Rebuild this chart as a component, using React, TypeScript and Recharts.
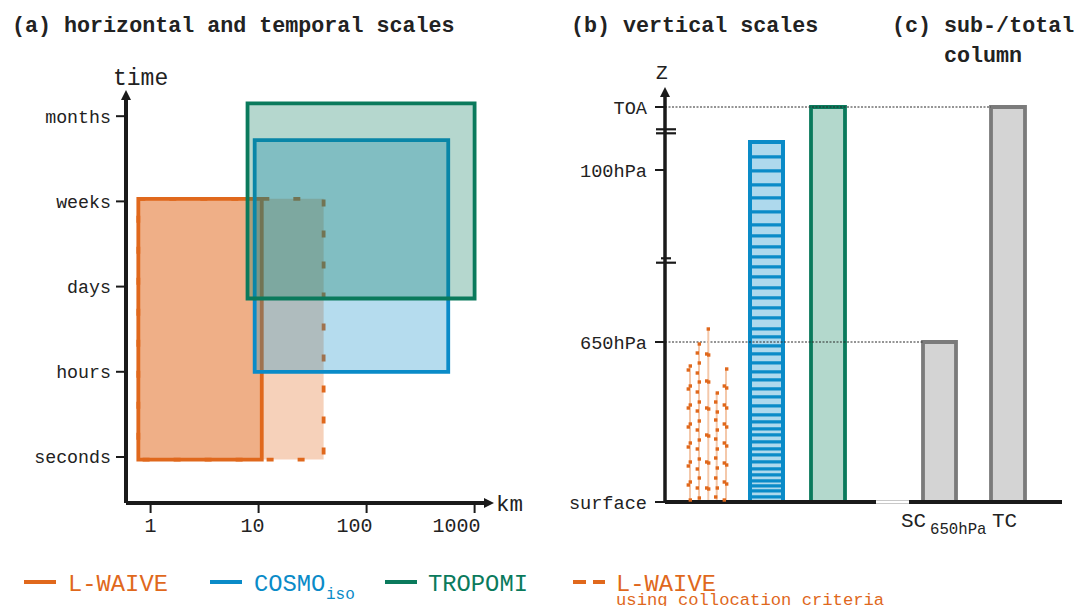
import React from "react";
import {
  ComposedChart,
  XAxis,
  YAxis,
  ReferenceArea,
  ReferenceLine,
  Line,
  Scatter,
} from "recharts";

const MONO = '"Liberation Mono", "DejaVu Sans Mono", monospace';
const INK = "#1a1a1a";
const TEXT = "#222";
const ORANGE = "#e0681c";
const ORANGE_LIGHT = "#f4c8aa";
const BLUE = "#0a8bc8";
const BLUE_LIGHT = "#aed9ed";
const GREEN = "#0a7a5c";
const GREEN_LIGHT = "#b3d8cc";
const GREY = "#7b7b7b";
const GREY_LIGHT = "#d4d4d4";
const ARROW = "url(#axisArrow)";

// (a) horizontal and temporal scales: km on a log axis, time on an ordinal axis
const KM_TICKS = [1, 10, 100, 1000];
const TIME_TICKS = [1, 2, 3, 4, 5];
const TIME_LABELS = ["seconds", "hours", "days", "weeks", "months"];

const SCALE_NAMES = ["L-WAIVE collocation", "L-WAIVE", "COSMOiso", "TROPOMI"];
const SCALE_KM_MIN = [0.77, 0.77, 9.2, 7.9];
const SCALE_KM_MAX = [40, 10.7, 570, 1000];
const SCALE_TIME_MIN = [0.97, 0.97, 2, 2.86];
const SCALE_TIME_MAX = [4.03, 4.03, 4.72, 5.15];

const SCALE_STYLE = [
  { stroke: ORANGE, fill: ORANGE, fillOpacity: 0.3, dash: "7 24" },
  { stroke: ORANGE, fill: ORANGE, fillOpacity: 0.32, dash: undefined },
  { stroke: BLUE, fill: BLUE, fillOpacity: 0.3, dash: undefined },
  { stroke: GREEN, fill: GREEN, fillOpacity: 0.3, dash: undefined },
];

// (b)/(c) vertical scales, schematic height above the surface
const LEVEL_TICKS = [0, 160, 332, 395];
const LEVEL_LABELS = ["surface", "650hPa", "100hPa", "TOA"];
const AXIS_BREAKS = [372.7, 368.7, 243.7, 239.3];

const COLUMN_NAMES = ["COSMOiso", "TROPOMI", "SC650hPa", "TC"];
const COLUMN_LEFT = [85, 146, 258, 326];
const COLUMN_RIGHT = [118, 180, 291, 360];
const COLUMN_TOP = [360, 395, 160, 395];
const COLUMN_STYLE = [
  { stroke: BLUE, fill: BLUE_LIGHT },
  { stroke: GREEN, fill: GREEN_LIGHT },
  { stroke: GREY, fill: GREY_LIGHT },
  { stroke: GREY, fill: GREY_LIGHT },
];

// COSMOiso model level interfaces
const COSMO_LEVELS = [
  360, 345, 331, 317, 304, 290, 277, 266, 255, 245, 235, 225, 214, 204, 194,
  184, 173, 165, 156, 148, 139, 130, 122, 113, 105, 96, 87, 80, 73, 67, 60, 53,
  47, 40, 33, 27, 21, 16, 11, 5, 0,
];

// L-WAIVE profiles: [x, height]
const PROFILE_X = [25, 34, 43.3, 51.7, 61];
const PROFILE_TOP = [136, 158, 173, 109, 133];
const PROFILE_1 = [
  [25.3, 136], [23.3, 132], [25.3, 116], [23.3, 113], [25.3, 97], [23.3, 94],
  [25.3, 78], [23.3, 75], [25.3, 59], [23.3, 55], [25.3, 40], [23.3, 36],
  [25.3, 20], [23.3, 17], [25.3, 2],
];
const PROFILE_2 = [
  [34.3, 158], [32.3, 149], [34.3, 139], [32.3, 129], [34.3, 120], [32.3, 110],
  [34.3, 100], [32.3, 91], [34.3, 81], [32.3, 72], [34.3, 62], [32.3, 53],
  [34.3, 43], [32.3, 33], [34.3, 24], [32.3, 14], [34.3, 4],
];
const PROFILE_3 = [
  [43.3, 173], [41.7, 148], [43.7, 147], [41.7, 121], [43.7, 120], [41.7, 94],
  [43.7, 93], [41.7, 67], [43.7, 66], [41.7, 40], [43.7, 39], [41.7, 14],
  [43.7, 13],
];
const PROFILE_4 = [
  [52.3, 109], [50.7, 100], [52.3, 90], [50.7, 82], [52.3, 72], [50.7, 63],
  [52.3, 53], [50.7, 44], [52.3, 34], [50.7, 24], [52.3, 14], [50.7, 5],
];
const PROFILE_5 = [
  [61.7, 133], [59.3, 116], [61.7, 114], [59.3, 97], [61.7, 94], [59.3, 78],
  [61.7, 75], [59.3, 59], [61.7, 56], [59.3, 39], [61.7, 37], [59.3, 20],
  [61.7, 18], [59.3, 2],
];
const PROFILES = [PROFILE_1, PROFILE_2, PROFILE_3, PROFILE_4, PROFILE_5];

function KmTick({ x, y, payload }: any) {
  return (
    <text x={x + 6} y={y} dy="0.71em" textAnchor="end" fontFamily={MONO} fontSize={20} fill={TEXT}>
      {payload.value}
    </text>
  );
}

function SquareDot({ cx, cy }: any) {
  return <rect x={cx - 1.7} y={cy - 1.7} width={3.4} height={3.4} fill={ORANGE} />;
}

function ScalesPanel() {
  return (
    <ComposedChart width={540} height={560} margin={{ top: 100, right: 56, bottom: 27, left: 0 }}>
      <XAxis
        type="number"
        dataKey="km"
        scale="log"
        domain={[0.592, 1222]}
        ticks={KM_TICKS}
        interval={0}
        allowDataOverflow
        height={30}
        tickSize={10}
        tickMargin={5}
        axisLine={{ stroke: INK, strokeWidth: 4, markerEnd: ARROW }}
        tickLine={{ stroke: INK, strokeWidth: 2 }}
        tick={<KmTick />}
      />
      <YAxis
        type="number"
        dataKey="t"
        domain={[0.46, 5.19]}
        ticks={TIME_TICKS}
        interval={0}
        allowDataOverflow
        width={126}
        tickSize={10}
        tickMargin={5}
        tickFormatter={(v: number) => TIME_LABELS[v - 1]}
        axisLine={{ stroke: INK, strokeWidth: 4, markerStart: ARROW }}
        tickLine={{ stroke: INK, strokeWidth: 2 }}
        tick={{ fill: TEXT, fontSize: 18.3, fontFamily: MONO }}
      />
      {SCALE_NAMES.map((name, i) => (
        <ReferenceArea
          key={name}
          x1={SCALE_KM_MIN[i]}
          x2={SCALE_KM_MAX[i]}
          y1={SCALE_TIME_MIN[i]}
          y2={SCALE_TIME_MAX[i]}
          fill={SCALE_STYLE[i].fill}
          fillOpacity={SCALE_STYLE[i].fillOpacity}
          stroke={SCALE_STYLE[i].stroke}
          strokeWidth={3.8}
          strokeDasharray={SCALE_STYLE[i].dash}
          ifOverflow="visible"
        />
      ))}
    </ComposedChart>
  );
}

function VerticalPanel() {
  return (
    <ComposedChart width={534} height={560} margin={{ top: 97, right: 12, bottom: 58, left: 0 }}>
      <XAxis type="number" dataKey="x" domain={[0, 397]} hide allowDataOverflow />
      <YAxis
        type="number"
        dataKey="h"
        domain={[0, 405]}
        ticks={LEVEL_TICKS}
        interval={0}
        allowDataOverflow
        width={125}
        tickSize={10}
        tickMargin={8}
        tickFormatter={(v: number) => LEVEL_LABELS[LEVEL_TICKS.indexOf(v)]}
        axisLine={{ stroke: INK, strokeWidth: 3.5, markerStart: ARROW }}
        tickLine={{ stroke: INK, strokeWidth: 2 }}
        tick={{ fill: TEXT, fontSize: 18.6, fontFamily: MONO }}
      />

      {/* guides from the axis to the total and sub column */}
      <ReferenceLine
        segment={[{ x: 0, y: LEVEL_TICKS[3] }, { x: COLUMN_LEFT[3], y: LEVEL_TICKS[3] }]}
        stroke="#2a2a2a"
        strokeWidth={1}
        strokeDasharray="2 1.5"
        ifOverflow="visible"
      />
      <ReferenceLine
        segment={[{ x: 0, y: LEVEL_TICKS[1] }, { x: COLUMN_LEFT[2], y: LEVEL_TICKS[1] }]}
        stroke="#2a2a2a"
        strokeWidth={1}
        strokeDasharray="2 1.5"
        ifOverflow="visible"
      />

      {COLUMN_NAMES.map((name, i) => (
        <ReferenceArea
          key={name}
          x1={COLUMN_LEFT[i]}
          x2={COLUMN_RIGHT[i]}
          y1={0}
          y2={COLUMN_TOP[i]}
          fill={COLUMN_STYLE[i].fill}
          fillOpacity={1}
          stroke={COLUMN_STYLE[i].stroke}
          strokeWidth={3.8}
          ifOverflow="visible"
        />
      ))}
      {COSMO_LEVELS.slice(1).map((lev, i) => (
        <ReferenceArea
          key={"lev" + i}
          x1={COLUMN_LEFT[0]}
          x2={COLUMN_RIGHT[0]}
          y1={lev}
          y2={COSMO_LEVELS[i]}
          fill={BLUE_LIGHT}
          fillOpacity={1}
          stroke={BLUE}
          strokeWidth={3}
          ifOverflow="visible"
        />
      ))}
      <ReferenceArea
        x1={COLUMN_LEFT[0]}
        x2={COLUMN_RIGHT[0]}
        y1={0}
        y2={COLUMN_TOP[0]}
        fill="none"
        stroke={BLUE}
        strokeWidth={4}
        ifOverflow="visible"
      />

      {PROFILE_X.map((x, i) => (
        <Line
          key={"pl" + i}
          data={[{ x, h: 0 }, { x, h: PROFILE_TOP[i] }]}
          dataKey="h"
          stroke={ORANGE_LIGHT}
          strokeWidth={2}
          dot={false}
          isAnimationActive={false}
        />
      ))}
      {PROFILES.map((p, i) => (
        <Scatter
          key={"pd" + i}
          data={p.map(([x, h]) => ({ x, h }))}
          shape={<SquareDot />}
          isAnimationActive={false}
        />
      ))}

      {/* surface line, broken between panels (b) and (c) */}
      <ReferenceLine segment={[{ x: 0, y: 0 }, { x: 211, y: 0 }]} stroke={INK} strokeWidth={4} ifOverflow="visible" />
      <ReferenceLine segment={[{ x: 211, y: 0 }, { x: 244, y: 0 }]} stroke="#c8c8c8" strokeWidth={4} ifOverflow="visible" />
      <ReferenceLine segment={[{ x: 211, y: 0 }, { x: 244, y: 0 }]} stroke="#fff" strokeWidth={2} ifOverflow="visible" />
      <ReferenceLine segment={[{ x: 244, y: 0 }, { x: 397, y: 0 }]} stroke={INK} strokeWidth={4} ifOverflow="visible" />

      {/* axis breaks */}
      {AXIS_BREAKS.map((b, i) => (
        <ReferenceLine
          key={"br" + i}
          segment={[{ x: i === 2 ? -4 : -9, y: b }, { x: i === 2 ? 6 : 11, y: b }]}
          stroke={INK}
          strokeWidth={2.2}
          ifOverflow="visible"
        />
      ))}
    </ComposedChart>
  );
}

function Annotations() {
  const title = { fontFamily: MONO, fontWeight: 700, fontSize: 21.7, fill: TEXT };
  const axisText = { fontFamily: MONO, fill: TEXT };
  const legend = { fontFamily: MONO, fontSize: 23.8 };
  return (
    <svg width={1074} height={606} style={{ position: "absolute", left: 0, top: 0, pointerEvents: "none" }}>
      <defs>
        <marker
          id="axisArrow"
          viewBox="0 0 10 10"
          refX="0"
          refY="5"
          markerWidth="10"
          markerHeight="10"
          markerUnits="userSpaceOnUse"
          orient="auto-start-reverse"
        >
          <path d="M0,0 L10,5 L0,10 z" fill={INK} />
        </marker>
      </defs>

      <text x={12} y={32} {...title}>(a) horizontal and temporal scales</text>
      <text x={571} y={32} {...title}>(b) vertical scales</text>
      <text x={892} y={32} {...title}>(c) sub-/total</text>
      <text x={944} y={62} {...title}>column</text>

      <text x={113} y={85} fontSize={23} {...axisText}>time</text>
      <text x={496} y={511} fontSize={22.5} {...axisText}>km</text>
      <text x={656} y={79} fontSize={19.5} {...axisText}>Z</text>

      <text x={901} y={527} fontSize={21} {...axisText}>SC</text>
      <text x={930} y={534} fontSize={15.7} {...axisText}>650hPa</text>
      <text x={992} y={527} fontSize={21} {...axisText}>TC</text>

      {/* legend */}
      <line x1={24} x2={56} y1={582} y2={582} stroke={ORANGE} strokeWidth={4} />
      <text x={68} y={591} fill={ORANGE} {...legend}>L-WAIVE</text>
      <line x1={210} x2={242} y1={582} y2={582} stroke={BLUE} strokeWidth={4} />
      <text x={254} y={591} fill={BLUE} {...legend}>COSMO</text>
      <text x={326} y={599} fill={BLUE} fontFamily={MONO} fontSize={16}>iso</text>
      <line x1={385} x2={417} y1={582} y2={582} stroke={GREEN} strokeWidth={4} />
      <text x={428} y={591} fill={GREEN} {...legend}>TROPOMI</text>
      <line x1={573} x2={605} y1={582} y2={582} stroke={ORANGE} strokeWidth={4} strokeDasharray="13 7" />
      <text x={616} y={591} fill={ORANGE} {...legend}>L-WAIVE</text>
      <text x={616} y={605} fill={ORANGE} fontFamily={MONO} fontSize={17.2}>using collocation criteria</text>
    </svg>
  );
}

export default function App() {
  return (
    <div style={{ position: "absolute", left: 0, top: 0, width: 1074, height: 606, background: "#fff", overflow: "hidden" }}>
      <div style={{ position: "absolute", left: 0, top: 0 }}>
        <ScalesPanel />
      </div>
      <div style={{ position: "absolute", left: 540, top: 0 }}>
        <VerticalPanel />
      </div>
      <Annotations />
    </div>
  );
}
